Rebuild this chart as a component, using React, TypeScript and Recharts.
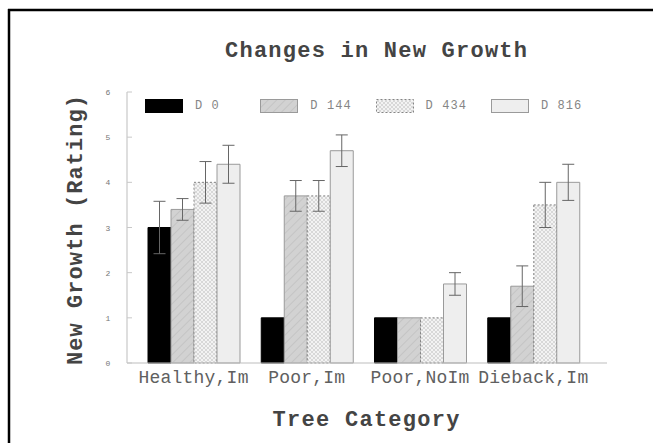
import React from 'react';
import { BarChart, Bar, XAxis, YAxis, ErrorBar, Legend } from 'recharts';

const categories = ['Healthy,Im', 'Poor,Im', 'Poor,NoIm', 'Dieback,Im'];
const seriesNames = ['D 0', 'D 144', 'D 434', 'D 816'];
const d0 = [3.0, 1.0, 1.0, 1.0];
const d0Err = [0.58, 0, 0, 0];
const d144 = [3.4, 3.7, 1.0, 1.7];
const d144Err = [0.24, 0.34, 0, 0.45];
const d434 = [4.0, 3.7, 1.0, 3.5];
const d434Err = [0.46, 0.34, 0, 0.5];
const d816 = [4.4, 4.7, 1.75, 4.0];
const d816Err = [0.42, 0.35, 0.25, 0.4];
const yTicks = [0, 1, 2, 3, 4, 5, 6];

const title = 'Changes in New Growth';
const xTitle = 'Tree Category';
const yTitle = 'New Growth (Rating)';

const data = categories.map((c, i) => ({
  category: c,
  d0: d0[i],
  d0Err: d0Err[i],
  d144: d144[i],
  d144Err: d144Err[i],
  d434: d434[i],
  d434Err: d434Err[i],
  d816: d816[i],
  d816Err: d816Err[i],
}));

const FONT = '"Liberation Mono", "Courier New", monospace';

const seriesStyle: Record<string, any> = {
  d0: { fill: '#000000', stroke: '#000000' },
  d144: { fill: 'url(#hatch144)', stroke: '#9a9a9a' },
  d434: { fill: 'url(#hatch434)', stroke: '#858585', strokeDasharray: '2 2' },
  d816: { fill: '#eeeeee', stroke: '#9a9a9a' },
};
const seriesKeys = ['d0', 'd144', 'd434', 'd816'];

const YTick = (props: any) => {
  const { x, y, payload } = props;
  return (
    <g>
      <line x1={x + 19} x2={x + 24} y1={y} y2={y} stroke="#c8c8c8" />
      <text x={x} y={y} dy={3} textAnchor="middle" fontFamily={FONT} fontSize={8} fill="#777">
        {payload.value}
      </text>
    </g>
  );
};

const CatTick = (props: any) => {
  const { x, y, payload } = props;
  return (
    <text x={x} y={y} dy={20} textAnchor="middle" fontFamily={FONT} fontSize={18} letterSpacing={0.2} fill="#606060">
      {payload.value}
    </text>
  );
};

const LegendContent = (props: any) => {
  const payload = props.payload || [];
  return (
    <div style={{ display: 'flex', height: 14 }}>
      {payload.map((p: any) => {
        const st = seriesStyle[p.dataKey as string] || {};
        return (
          <div key={String(p.dataKey)} style={{ width: 115.3, display: 'flex', alignItems: 'center' }}>
            <svg width={39} height={14} style={{ display: 'block' }}>
              <rect x={0.5} y={0.5} width={37} height={13} fill={st.fill} stroke={st.stroke} strokeDasharray={st.strokeDasharray} />
            </svg>
            <span style={{ marginLeft: 11, fontFamily: FONT, fontSize: 12, letterSpacing: 1.1, color: '#858585', lineHeight: '14px' }}>
              {p.value}
            </span>
          </div>
        );
      })}
    </div>
  );
};

export default function App() {
  return (
    <div style={{ position: 'absolute', left: 0, top: 0, width: 653, height: 443, background: '#fff' }}>
      <svg width={653} height={443} style={{ position: 'absolute', left: 0, top: 0 }}>
        <defs>
          <pattern id="hatch144" patternUnits="userSpaceOnUse" width={6} height={6} patternTransform="rotate(45)">
            <rect width={6} height={6} fill="#d2d2d2" />
            <line x1={0} y1={0} x2={0} y2={6} stroke="#c4c4c4" strokeWidth={2} />
          </pattern>
          <pattern id="hatch434" patternUnits="userSpaceOnUse" width={4} height={4}>
            <rect width={4} height={4} fill="#f3f3f3" />
            <path d="M0,4 L4,0 M0,0 L4,4" stroke="#d0d0d0" strokeWidth={0.8} />
          </pattern>
        </defs>
      </svg>
      <div style={{ position: 'absolute', left: 0, top: 0 }}>
        <BarChart
          width={653}
          height={443}
          data={data}
          margin={{ top: 92, right: 46, bottom: 50, left: 0 }}
          barCategoryGap={11}
          barGap={0}
        >
          <XAxis
            dataKey="category"
            height={30}
            padding={{ left: 10, right: 17 }}
            axisLine={{ stroke: '#bdbdbd' }}
            tickLine={false}
            tickSize={0}
            tickMargin={0}
            interval={0}
            tick={<CatTick />}
          />
          <XAxis
            xAxisId="top"
            orientation="top"
            dataKey="category"
            height={0}
            padding={{ left: 10, right: 17 }}
            axisLine={{ stroke: '#bdbdbd' }}
            tickLine={false}
            tick={false}
          />
          <YAxis
            width={127}
            domain={[0, 6]}
            ticks={yTicks}
            axisLine={{ stroke: '#bdbdbd' }}
            tickLine={false}
            tickSize={0}
            tickMargin={19}
            tick={<YTick />}
          />
          <YAxis
            yAxisId="right"
            orientation="right"
            width={0}
            domain={[0, 6]}
            axisLine={{ stroke: '#bdbdbd' }}
            tickLine={false}
            tick={false}
          />
          <Legend
            layout="horizontal"
            verticalAlign="middle"
            align="center"
            content={<LegendContent />}
            wrapperStyle={{ position: 'absolute', top: 99, left: 145, width: 470, height: 14 }}
          />
          {seriesKeys.map((k, i) => (
            <Bar
              key={k}
              dataKey={k}
              name={seriesNames[i]}
              fill={seriesStyle[k].fill}
              stroke={seriesStyle[k].stroke}
              strokeDasharray={seriesStyle[k].strokeDasharray}
              strokeWidth={1}
              isAnimationActive={false}
            >
              <ErrorBar dataKey={k + 'Err'} width={6} stroke="#666666" strokeWidth={1} direction="y" />
            </Bar>
          ))}
        </BarChart>
      </div>
      <svg width={653} height={443} style={{ position: 'absolute', left: 0, top: 0, pointerEvents: 'none' }}>
        <line x1={9} y1={9} x2={9} y2={443} stroke="#000" strokeWidth={2.5} />
        <line x1={8} y1={10} x2={653} y2={10} stroke="#000" strokeWidth={2.5} />
        <text x={376} y={57} textAnchor="middle" fontFamily={FONT} fontSize={22} fontWeight="bold" fill="#444" textLength={302} lengthAdjust="spacing">
          {title}
        </text>
        <text x={366} y={426} textAnchor="middle" fontFamily={FONT} fontSize={22} fontWeight="bold" fill="#444" textLength={187} lengthAdjust="spacing">
          {xTitle}
        </text>
        <text
          x={0}
          y={0}
          transform="translate(82,230) rotate(-90)"
          textAnchor="middle"
          fontFamily={FONT}
          fontSize={22}
          fontWeight="bold"
          fill="#444"
          textLength={270}
          lengthAdjust="spacing"
        >
          {yTitle}
        </text>
      </svg>
    </div>
  );
}
